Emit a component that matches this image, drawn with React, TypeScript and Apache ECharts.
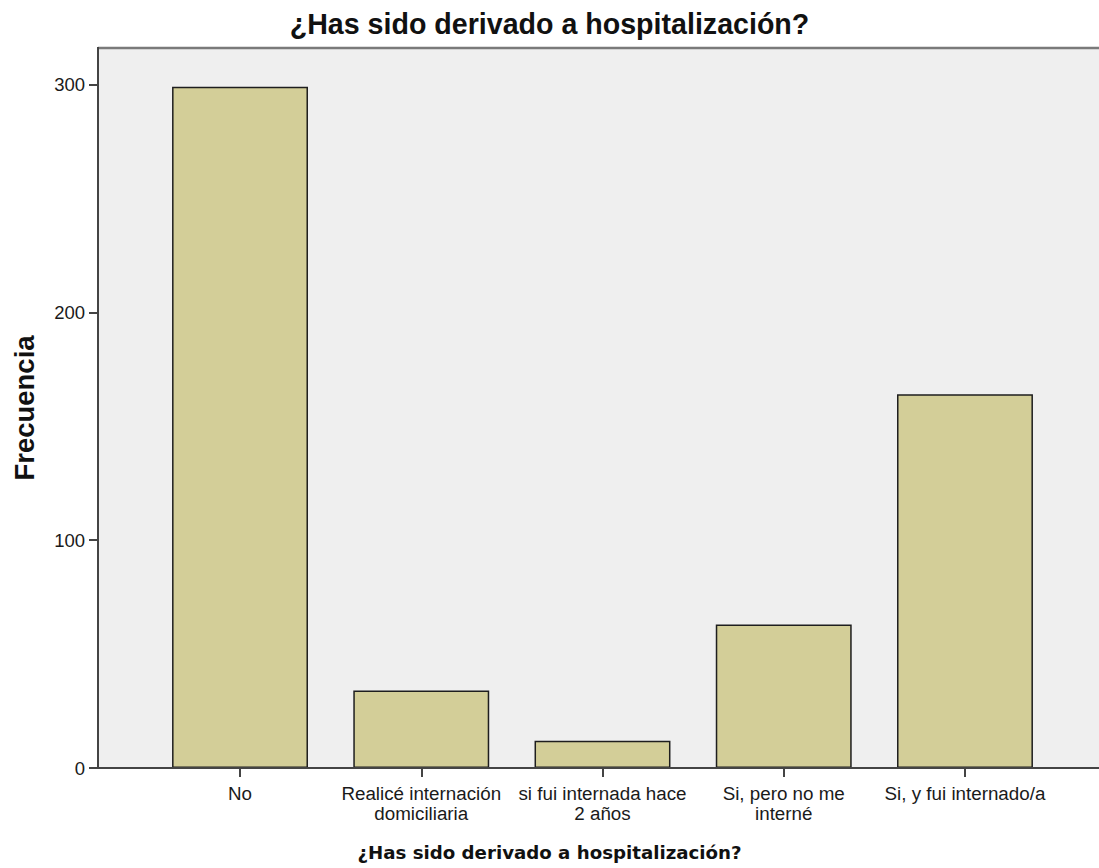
import React, { useEffect, useRef } from "react";
import * as echarts from "echarts";

const categories = [
  "No",
  "Realicé internación\ndomiciliaria",
  "si fui internada hace\n2 años",
  "Si, pero no me\ninterné",
  "Si, y fui internado/a",
];
const frequencies = [299, 34, 12, 63, 164];
const yTicks = [0, 100, 200, 300];
const chartTitle = "¿Has sido derivado a hospitalización?";
const xAxisTitle = "¿Has sido derivado a hospitalización?";
const yAxisTitle = "Frecuencia";

export default function App() {
  const ref = useRef<HTMLDivElement>(null);
  useEffect(() => {
    document.body.style.margin = "0";
    const chart = echarts.init(ref.current!, null, { renderer: "svg" });
    chart.setOption({
      animation: false,
      backgroundColor: "#ffffff",
      title: [
        {
          text: chartTitle,
          left: "center",
          top: 9,
          padding: 0,
          textStyle: {
            fontFamily: "Liberation Sans",
            fontWeight: "bold",
            fontSize: 28.6,
            color: "#111",
          },
        },
        {
          text: xAxisTitle,
          left: "center",
          top: 843,
          padding: 0,
          textStyle: {
            fontFamily: "DejaVu Sans",
            fontWeight: "bold",
            fontSize: 18.2,
            color: "#111",
          },
        },
      ],
      graphic: [
        {
          type: "rect",
          z: -10,
          silent: true,
          shape: { x: 98, y: 48, width: 1010, height: 720 },
          style: { fill: "#efefef" },
        },
        {
          type: "line",
          z: 10,
          silent: true,
          shape: { x1: 98, y1: 48, x2: 1099, y2: 48 },
          style: { stroke: "#7a7a7a", lineWidth: 2.5 },
        },
        {
          type: "line",
          z: 20,
          silent: true,
          shape: { x1: 98, y1: 47, x2: 98, y2: 769 },
          style: { stroke: "#444", lineWidth: 2 },
        },
        {
          type: "line",
          z: 20,
          silent: true,
          shape: { x1: 97, y1: 768, x2: 1099, y2: 768 },
          style: { stroke: "#444", lineWidth: 2 },
        },
      ],
      grid: {
        left: 149.4,
        right: 43.4,
        top: 48,
        bottom: 100,
        containLabel: false,
      },
      xAxis: {
        type: "category",
        data: categories,
        axisLine: { show: false },
        axisTick: {
          show: true,
          alignWithLabel: true,
          length: 9,
          lineStyle: { color: "#444", width: 2 },
        },
        axisLabel: {
          interval: 0,
          margin: 15,
          fontFamily: "Liberation Sans",
          fontSize: 18.8,
          lineHeight: 20,
          color: "#1a1a1a",
        },
        splitLine: { show: false },
      },
      yAxis: {
        type: "value",
        min: 0,
        max: 316,
        offset: 51.4,
        name: yAxisTitle,
        nameLocation: "middle",
        nameGap: 60,
        nameRotate: 90,
        nameTextStyle: {
          fontFamily: "Liberation Sans",
          fontWeight: "bold",
          fontSize: 27.5,
          color: "#111",
        },
        axisLine: { show: false },
        axisTick: {
          show: true,
          length: 9,
          customValues: yTicks,
          lineStyle: { color: "#444", width: 2 },
        },
        axisLabel: {
          customValues: yTicks,
          margin: 13,
          fontFamily: "Liberation Sans",
          fontSize: 18.5,
          color: "#1a1a1a",
        },
        splitLine: { show: false },
      },
      series: [
        {
          type: "bar",
          data: frequencies,
          barWidth: "75%",
          itemStyle: {
            color: "#d3ce98",
            borderColor: "#1e1e1e",
            borderWidth: 1.5,
          },
        },
      ],
    });
    return () => chart.dispose();
  }, []);
  return <div ref={ref} style={{ width: 1099, height: 868 }} />;
}
